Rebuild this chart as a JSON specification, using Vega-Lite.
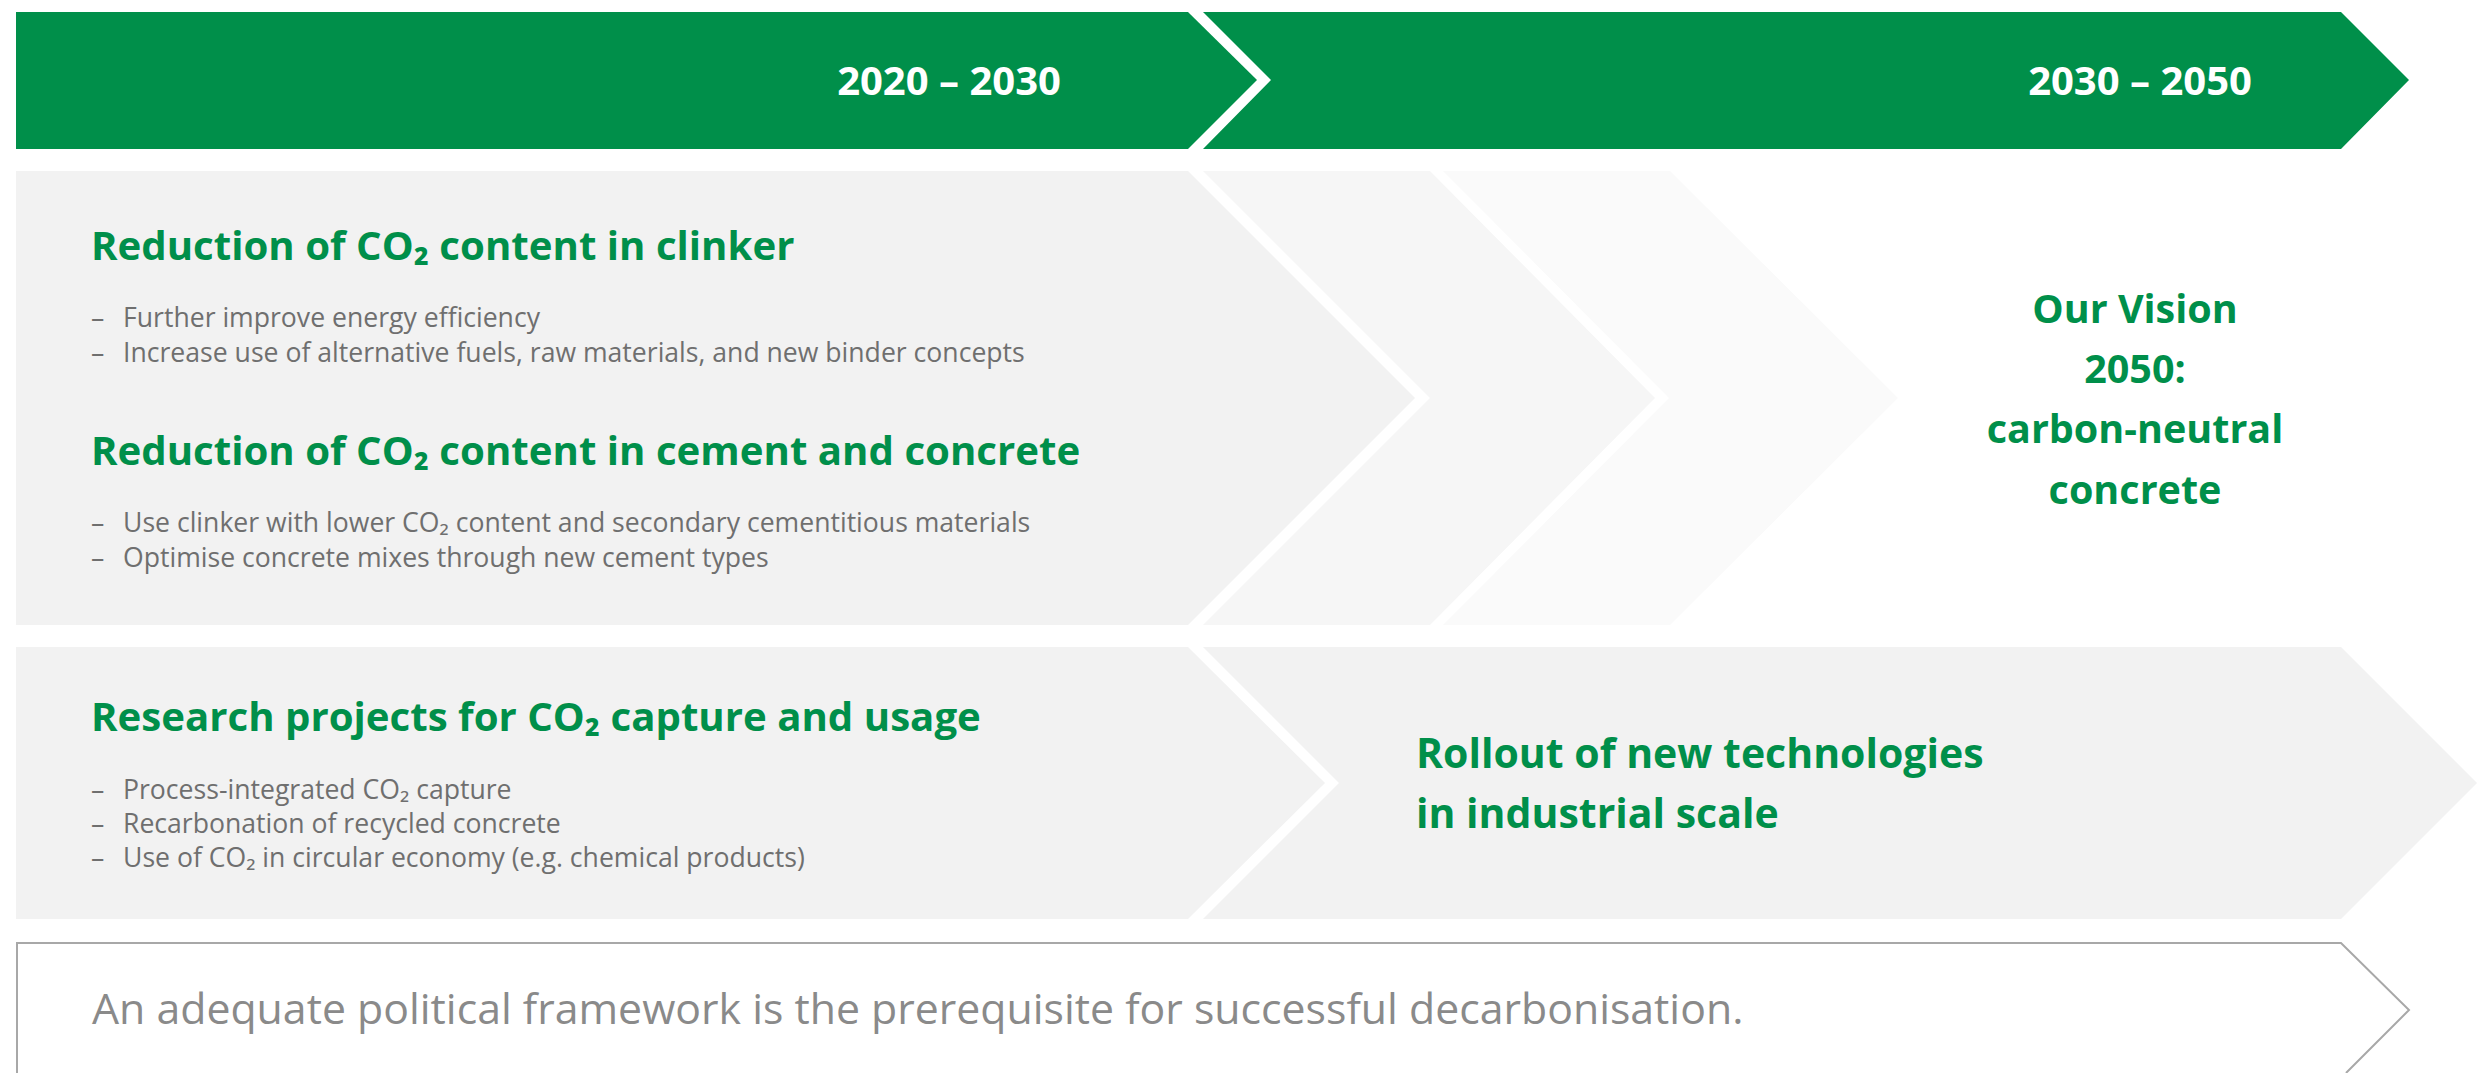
{
  "$schema": "https://vega.github.io/schema/vega-lite/v6.json",
  "width": 2489,
  "height": 1073,
  "autosize": {"type": "fit", "contains": "padding"},
  "padding": 0,
  "background": "#ffffff",
  "config": {"view": {"stroke": null}},
  "datasets": {
    "shapes": [
      {"shape": "T1", "y": 12, "x": 16, "x2": 1188},
      {"shape": "T1", "y": 80, "x": 16, "x2": 1257},
      {"shape": "T1", "y": 149, "x": 16, "x2": 1188},
      {"shape": "T2", "y": 12, "x": 1203, "x2": 2341},
      {"shape": "T2", "y": 80, "x": 1271, "x2": 2409},
      {"shape": "T2", "y": 149, "x": 1203, "x2": 2341},
      {"shape": "G1", "y": 171, "x": 16, "x2": 1188},
      {"shape": "G1", "y": 398, "x": 16, "x2": 1415},
      {"shape": "G1", "y": 625, "x": 16, "x2": 1188},
      {"shape": "G2", "y": 171, "x": 1203, "x2": 1430},
      {"shape": "G2", "y": 398, "x": 1430, "x2": 1655},
      {"shape": "G2", "y": 625, "x": 1203, "x2": 1430},
      {"shape": "G3", "y": 171, "x": 1443, "x2": 1670},
      {"shape": "G3", "y": 398, "x": 1669, "x2": 1898},
      {"shape": "G3", "y": 625, "x": 1443, "x2": 1670},
      {"shape": "L1", "y": 647, "x": 16, "x2": 1188},
      {"shape": "L1", "y": 783, "x": 16, "x2": 1325},
      {"shape": "L1", "y": 919, "x": 16, "x2": 1188},
      {"shape": "L2", "y": 647, "x": 1203, "x2": 2341},
      {"shape": "L2", "y": 783, "x": 1339, "x2": 2477},
      {"shape": "L2", "y": 919, "x": 1203, "x2": 2341}
    ],
    "outline": [
      {"i": 1, "x": 17, "y": 1073},
      {"i": 2, "x": 17, "y": 943},
      {"i": 3, "x": 2341, "y": 943},
      {"i": 4, "x": 2409, "y": 1010},
      {"i": 5, "x": 2346, "y": 1073}
    ],
    "periods": [
      {"text": "2020 – 2030", "x": 949, "y": 95},
      {"text": "2030 – 2050", "x": 2140, "y": 95}
    ],
    "headings": [
      {"text": "Reduction of CO₂ content in clinker", "x": 91, "y": 260},
      {"text": "Reduction of CO₂ content in cement and concrete", "x": 91, "y": 465},
      {"text": "Research projects for CO₂ capture and usage", "x": 91, "y": 731}
    ],
    "rollout": [
      {"text": "Rollout of new technologies", "x": 1416, "y": 768},
      {"text": "in industrial scale", "x": 1416, "y": 828}
    ],
    "vision": [
      {"text": "Our Vision", "x": 2135, "y": 323},
      {"text": "2050:", "x": 2135, "y": 383},
      {"text": "carbon-neutral", "x": 2135, "y": 443},
      {"text": "concrete", "x": 2135, "y": 504}
    ],
    "bullets": [
      {"text": "Further improve energy efficiency", "x": 123, "y": 327},
      {"text": "Increase use of alternative fuels, raw materials, and new binder concepts", "x": 123, "y": 362},
      {"text": "Use clinker with lower CO₂ content and secondary cementitious materials", "x": 123, "y": 532},
      {"text": "Optimise concrete mixes through new cement types", "x": 123, "y": 567},
      {"text": "Process-integrated CO₂ capture", "x": 123, "y": 799},
      {"text": "Recarbonation of recycled concrete", "x": 123, "y": 833},
      {"text": "Use of CO₂ in circular economy (e.g. chemical products)", "x": 123, "y": 867}
    ],
    "footer": [
      {"text": "An adequate political framework is the prerequisite for successful decarbonisation.", "x": 92, "y": 1024}
    ]
  },
  "encoding": {
    "x": {"field": "x", "type": "quantitative", "scale": {"domain": [0, 2489], "nice": false, "zero": false}, "axis": null},
    "y": {"field": "y", "type": "quantitative", "scale": {"domain": [0, 1073], "nice": false, "zero": false, "reverse": true}, "axis": null}
  },
  "layer": [
    {
      "data": {"name": "shapes"},
      "mark": {"type": "area", "orient": "horizontal", "interpolate": "linear", "clip": true},
      "encoding": {
        "x2": {"field": "x2"},
        "color": {
          "field": "shape",
          "type": "nominal",
          "legend": null,
          "scale": {
            "domain": ["T1", "T2", "G1", "G2", "G3", "L1", "L2"],
            "range": ["#008f4a", "#008f4a", "#f2f2f2", "#f6f6f6", "#fafafa", "#f2f2f2", "#f2f2f2"]
          }
        }
      }
    },
    {
      "data": {"name": "outline"},
      "mark": {"type": "line", "color": "#a8a8a8", "strokeWidth": 2, "clip": true},
      "encoding": {"order": {"field": "i", "type": "quantitative"}}
    },
    {
      "data": {"name": "periods"},
      "mark": {"type": "text", "font": "Open Sans", "fontWeight": "bold", "fontSize": 40, "color": "#ffffff", "align": "center", "baseline": "alphabetic"},
      "encoding": {"text": {"field": "text"}}
    },
    {
      "data": {"name": "headings"},
      "mark": {"type": "text", "font": "Open Sans", "fontWeight": "bold", "fontSize": 40.2, "color": "#008f4a", "align": "left", "baseline": "alphabetic"},
      "encoding": {"text": {"field": "text"}}
    },
    {
      "data": {"name": "rollout"},
      "mark": {"type": "text", "font": "Open Sans", "fontWeight": "bold", "fontSize": 41, "color": "#008f4a", "align": "left", "baseline": "alphabetic"},
      "encoding": {"text": {"field": "text"}}
    },
    {
      "data": {"name": "vision"},
      "mark": {"type": "text", "font": "Open Sans", "fontWeight": "bold", "fontSize": 39.5, "color": "#008f4a", "align": "center", "baseline": "alphabetic"},
      "encoding": {"text": {"field": "text"}}
    },
    {
      "data": {"name": "bullets"},
      "mark": {"type": "text", "font": "Open Sans", "fontSize": 26.6, "color": "#6f6f6f", "align": "left", "baseline": "alphabetic"},
      "encoding": {"text": {"field": "text"}}
    },
    {
      "data": {"name": "bullets"},
      "mark": {"type": "text", "font": "Open Sans", "fontSize": 26.6, "color": "#6f6f6f", "align": "left", "baseline": "alphabetic", "dx": -32},
      "encoding": {"text": {"value": "–"}}
    },
    {
      "data": {"name": "footer"},
      "mark": {"type": "text", "font": "Open Sans", "fontSize": 42.8, "color": "#8a8a8a", "align": "left", "baseline": "alphabetic"},
      "encoding": {"text": {"field": "text"}}
    }
  ]
}
